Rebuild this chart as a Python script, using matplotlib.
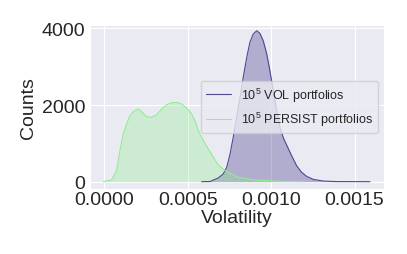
import matplotlib
matplotlib.use("Agg")
import matplotlib.pyplot as plt
import seaborn as sns

# KDE curves (volatility, counts)
vol_x = [0.000584, 0.000634, 0.000683, 0.000713, 0.000734, 0.000754, 0.000773,
         0.000794, 0.000814, 0.000833, 0.000854, 0.000873, 0.000893, 0.000914,
         0.000933, 0.000953, 0.000974, 0.000993, 0.001013, 0.001034, 0.001053,
         0.001073, 0.001094, 0.001123, 0.001153, 0.001183, 0.001213, 0.001253,
         0.001313, 0.001393, 0.001593]
vol_y = [0, 5, 96, 200, 375, 722, 1158, 1680, 2201, 2723, 3245, 3636, 3852, 3939,
         3870, 3678, 3330, 2895, 2373, 1852, 1417, 1150, 950, 680, 417, 245, 141,
         60, 16, 3, 0]

persist_x = [-0.000006, 0.000044, 0.000074, 0.000094, 0.000114, 0.000134, 0.000154,
             0.00018, 0.000204, 0.000228, 0.000254, 0.000284, 0.000314, 0.000344,
             0.000374, 0.000404, 0.000434, 0.000464, 0.000494, 0.000524, 0.000544,
             0.000564, 0.000594, 0.000624, 0.000654, 0.000683, 0.000724, 0.000803,
             0.000903, 0.001043, 0.0012]
persist_y = [0, 45, 287, 808, 1244, 1505, 1721, 1852, 1896, 1810, 1695, 1680, 1748,
             1896, 2008, 2060, 2070, 2026, 1922, 1766, 1591, 1330, 1069, 853, 636,
             443, 287, 115, 44, 10, 0]

labels = [r"$10^5$ VOL portfolios", r"$10^5$ PERSIST portfolios"]
xticks = [0.0, 0.0005, 0.0010, 0.0015]
yticks = [0, 2000, 4000]

sns.set_style("darkgrid")
plt.rcParams["font.family"] = ["Liberation Sans", "DejaVu Sans"]
plt.rcParams["mathtext.fontset"] = "custom"
plt.rcParams["mathtext.rm"] = "Liberation Sans"
plt.rcParams["mathtext.it"] = "Liberation Sans:italic"

fig = plt.figure(figsize=(4.07, 2.55), dpi=100)
ax = fig.add_axes([0.221, 0.255, 0.7225, 0.644])

ax.plot(vol_x, vol_y, color="#4f4694", lw=0.8, label=labels[0])
ax.fill_between(vol_x, vol_y, color="darkslateblue", alpha=0.35, lw=0)
ax.plot(persist_x, persist_y, color="lightgreen", lw=0.8, label=labels[1])
ax.fill_between(persist_x, persist_y, color="lightgreen", alpha=0.32, lw=0)

ax.set_xlim(-0.0000857, 0.0016768)
ax.set_ylim(-190, 4095)
ax.set_xticks(xticks)
ax.set_xticklabels(["%.4f" % t for t in xticks])
ax.set_yticks(yticks)
ax.tick_params(axis="both", length=0, labelsize=14)
ax.tick_params(axis="x", pad=1.5)
ax.tick_params(axis="y", pad=3.5)
ax.set_xlabel("Volatility", fontsize=14, labelpad=1)
ax.set_ylabel("Counts", fontsize=14, labelpad=3)
ax.legend(loc="center right", fontsize=9)

fig.savefig("out.png", dpi=100)
